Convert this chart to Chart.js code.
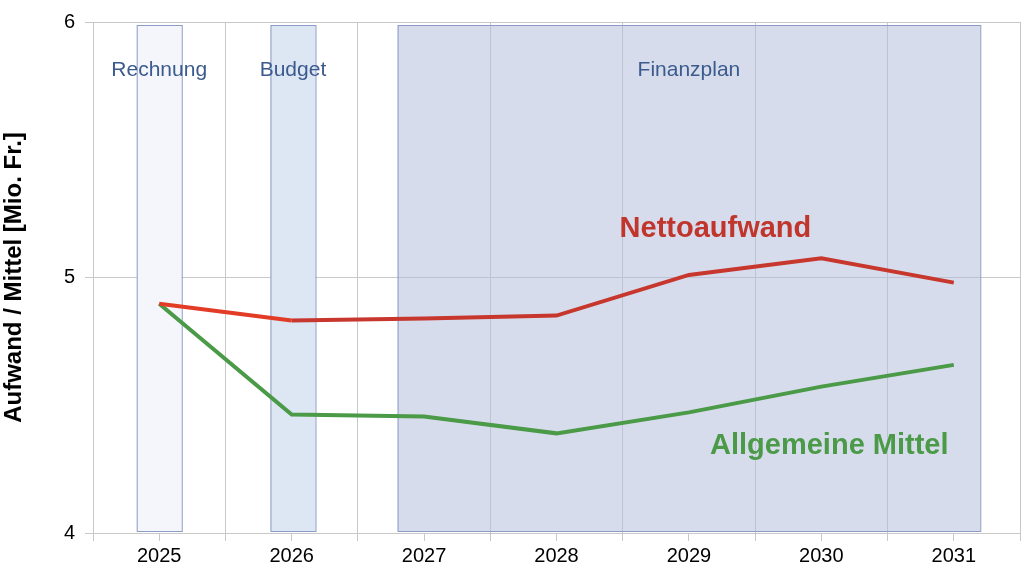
<!DOCTYPE html>
<html><head><meta charset="utf-8">
<script src="https://cdn.jsdelivr.net/npm/chart.js@4/dist/chart.umd.min.js"></script>
<style>html,body{margin:0;padding:0;background:#fff}#w{width:1024px;height:571px}</style>
</head><body><div id="w"><canvas id="c"></canvas></div>
<script>
const years=[2025,2026,2027,2028,2029,2030,2031];
const netto=[4.897,4.832,4.84,4.851,5.01,5.075,4.98];
const allgemein=[4.897,4.464,4.456,4.39,4.472,4.573,4.658];
const yTicks=[4,5,6];
const phases=[
 {label:"Rechnung",from:2024.83,to:2025.17,fill:"#f4f6fb"},
 {label:"Budget",from:2025.84,to:2026.18,fill:"#dde6f3"},
 {label:"Finanzplan",from:2026.8,to:2031.2,fill:"rgba(180,192,218,0.55)"}
];
const bg={id:'bg',beforeDatasetsDraw(ch){
 const {ctx,scales:{x,y}}=ch;ctx.save();
 const t=y.getPixelForValue(6)+3,b=y.getPixelForValue(4)-2;
 phases.forEach(p=>{const l=x.getPixelForValue(p.from),r=x.getPixelForValue(p.to);
  ctx.fillStyle=p.fill;ctx.fillRect(l,t,r-l,b-t);ctx.strokeStyle="#8d9cc6";ctx.lineWidth=1;ctx.strokeRect(l+.5,t+.5,r-l,b-t);
  ctx.fillStyle="#3b5a8e";ctx.font="21px 'Liberation Sans',Arial";ctx.textAlign="center";ctx.textBaseline="middle";
  ctx.fillText(p.label,(l+r)/2,y.getPixelForValue(5.81));});
 ctx.restore();},
 afterDatasetsDraw(ch){const {ctx,scales:{x,y}}=ch;ctx.save();
 ctx.font="bold 29px 'Liberation Sans',Arial";ctx.textAlign="center";ctx.textBaseline="middle";
 ctx.fillStyle="#c0352c";ctx.fillText("Nettoaufwand",x.getPixelForValue(2029.2),y.getPixelForValue(5.19));
 ctx.fillStyle="#4a9a48";ctx.fillText("Allgemeine Mittel",x.getPixelForValue(2030.06),y.getPixelForValue(4.34));
 ctx.restore();}};
new Chart(document.getElementById('c'),{type:'line',
 data:{datasets:[
  {data:years.map((v,i)=>({x:v,y:netto[i]})),borderColor:"#c8372d",borderWidth:4,pointRadius:0,
   segment:{borderColor:c=>c.p0DataIndex===0?"#e23c26":undefined}},
  {data:years.map((v,i)=>({x:v,y:allgemein[i]})),borderColor:"#4a9a48",borderWidth:4,pointRadius:0}]},
 options:{responsive:true,maintainAspectRatio:false,animation:false,
  layout:{padding:{top:14,right:4,left:0,bottom:0}},
  plugins:{legend:{display:false},tooltip:{enabled:false}},
  scales:{
   x:{type:'linear',min:2024.5,max:2031.5,
    afterBuildTicks:a=>{a.ticks=[];for(let v=2024.5;v<=2031.5;v+=0.5)a.ticks.push({value:v});},
    ticks:{autoSkip:false,maxRotation:0,color:"#000",font:{size:20,family:"'Liberation Sans',Arial"},
     callback:v=>Number.isInteger(v)?String(v):''},
    grid:{color:c=>(c.tick&&!Number.isInteger(c.tick.value))?"#c8c8c8":"rgba(0,0,0,0)",tickColor:"#c8c8c8",tickLength:8},
    border:{color:"#c8c8c8"}},
   y:{min:4,max:6,afterBuildTicks:a=>{a.ticks=yTicks.map(v=>({value:v}));},
    afterFit:a=>{a.width=93;},
    ticks:{color:"#000",font:{size:20,family:"'Liberation Sans',Arial"},padding:10},
    grid:{color:"#c8c8c8",tickLength:8},border:{color:"#c8c8c8"},
    title:{display:true,text:"Aufwand / Mittel [Mio. Fr.]",color:"#000",padding:{top:0,bottom:0},font:{size:24,weight:'bold',family:"'Liberation Sans',Arial"}}}}},
 plugins:[bg]});
</script></body></html>
